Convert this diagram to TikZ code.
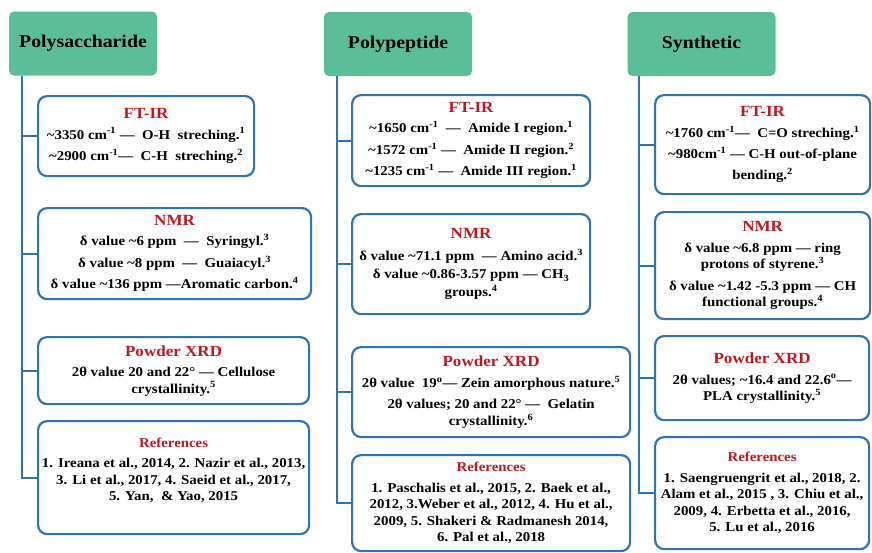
\documentclass[tikz,border=0pt]{standalone}
\usepackage{fontspec}
\setmainfont{Liberation Serif}[FakeStretch=1.1]
\usetikzlibrary{positioning}
\definecolor{headgreen}{RGB}{92,190,152}
\definecolor{boxblue}{RGB}{46,117,182}
\definecolor{titlered}{RGB}{192,24,32}
\newcommand{\btitle}[1]{{\color{titlered}\fontsize{15.5}{18}\selectfont #1}}
\newcommand{\rtitle}[1]{{\color{titlered}\fontsize{13.5}{16}\selectfont #1}}
\newcommand{\apx}{\textasciitilde}
\newcommand{\sps}[1]{\textsuperscript{#1}}

\begin{document}
\begin{tikzpicture}[x=1pt,y=-1pt,
	head/.style={fill=headgreen, rounded corners=5pt, minimum width=148pt, minimum height=64pt, font=\bfseries\fontsize{18}{22}\selectfont},
	card/.style={draw=boxblue, line width=2.2pt, rounded corners=9pt, fill=white, anchor=north west, align=center, inner sep=0pt, font=\bfseries\fontsize{13.5}{16.5}\selectfont},
	link/.style={draw=boxblue, line width=2.2pt}]
%	\draw [help lines] (0,0) grid (872,552);
	\useasboundingbox (0,0) rectangle (872,552);
	% headers
	\node [head] (h1) at (83,43.5) {Polysaccharide};
	\node [head] (h2) at (398,44) {Polypeptide};
	\node [head] (h3) at (701.5,44) {Synthetic};
	\coordinate (sp1) at (22,0);
	\coordinate (sp2) at (337,0);
	\coordinate (sp3) at (639,0);
	% polysaccharide
	\node [card, minimum width=216pt, minimum height=80pt] (ftir1) at (37,95) {\btitle{FT-IR}\\[4pt] \apx3350 cm\sps{-1} --- \ O-H \ streching.\sps{1}\\[5pt] \apx2900 cm\sps{-1}--- \ C-H \ streching.\sps{2}};
	\node [card, minimum width=273pt, minimum height=91pt] (nmr1) at (37,207) {\btitle{NMR}\\[4pt] δ value \apx6 ppm \ --- \ Syringyl.\sps{3}\\[5pt] δ value \apx8 ppm \ --- \ Guaiacyl.\sps{3}\\[5pt] δ value \apx136 ppm ---Aromatic carbon.\sps{4}};
	\node [card, minimum width=271pt, minimum height=67pt] (xrd1) at (37,336) {\btitle{Powder XRD}\\[4pt] 2θ value 20 and 22° --- Cellulose\\ crystallinity.\sps{5}};
	\node [card, minimum width=271pt, minimum height=113pt] (ref1) at (37,420) {\rtitle{References}\\[4pt] 1. Ireana et al., 2014, 2. Nazir et al., 2013,\\ 3. Li et al., 2017, 4. Saeid et al., 2017,\\ 5. Yan, \ \& Yao, 2015\\ \mbox{}};
	% polypeptide
	\node [card, minimum width=238pt, minimum height=91pt] (ftir2) at (351,94) {\btitle{FT-IR}\\[4pt] \apx1650 cm\sps{-1} \ --- \ Amide I region.\sps{1}\\[5pt] \apx1572 cm\sps{-1} --- \ Amide II region.\sps{2}\\[5pt] \apx1235 cm\sps{-1} --- \ Amide III region.\sps{1}};
	\node [card, minimum width=238pt, minimum height=100pt] (nmr2) at (351,213) {\btitle{NMR}\\[6pt] δ value \apx71.1 ppm \ --- Amino acid.\sps{3}\\[1.5pt] δ value \apx0.86-3.57 ppm --- CH\textsubscript{3}\\[1.5pt] groups.\sps{4}};
	\node [card, minimum width=278pt, minimum height=90pt] (xrd2) at (351,346) {\btitle{Powder XRD}\\[4pt] 2θ value \ 19\sps{o}--- Zein amorphous nature.\sps{5}\\[5pt] 2θ values; 20 and 22° --- \ Gelatin\\ crystallinity.\sps{6}};
	\node [card, minimum width=278pt, minimum height=96pt] (ref2) at (351,454) {\rtitle{References}\\[4pt] 1. Paschalis et al., 2015, 2. Baek et al.,\\ 2012, 3.Weber et al., 2012, 4. Hu et al.,\\ 2009, 5. Shakeri \& Radmanesh 2014,\\ 6. Pal et al., 2018};
	% synthetic
	\node [card, minimum width=215pt, minimum height=99pt] (ftir3) at (654,94) {\btitle{FT-IR}\\[4pt] \apx1760 cm\sps{-1}--- \ C=O streching.\sps{1}\\[5pt] \apx980cm\sps{-1} --- C-H out-of-plane\\[4pt] bending.\sps{2}};
	\node [card, minimum width=215pt, minimum height=107pt] (nmr3) at (654,211) {\btitle{NMR}\\[4pt] δ value \apx6.8 ppm --- ring\\ protons of styrene.\sps{3}\\[5pt] δ value \apx1.42 -5.3 ppm --- CH\\ functional groups.\sps{4}};
	\node [card, minimum width=214pt, minimum height=84pt] (xrd3) at (654,335) {\btitle{Powder XRD}\\[4pt] 2θ values; \apx16.4 and 22.6\sps{o}---\\ PLA crystallinity.\sps{5}};
	\node [card, minimum width=214pt, minimum height=112pt] (ref3) at (654,436) {\rtitle{References}\\[4pt] 1. Saengruengrit et al., 2018, 2.\\ Alam et al., 2015 , 3. Chiu et al.,\\ 2009, 4. Erbetta et al., 2016,\\ 5. Lu et al., 2016};
	% spines and branches
	\draw [link] (h1.south -| sp1) |- (ref1.west);
	\draw [link] (ftir1.west -| sp1) -- (ftir1.west);
	\draw [link] (nmr1.west -| sp1) -- (nmr1.west);
	\draw [link] (xrd1.west -| sp1) -- (xrd1.west);
	\draw [link] (h2.south -| sp2) |- (ref2.west);
	\draw [link] (ftir2.west -| sp2) -- (ftir2.west);
	\draw [link] (nmr2.west -| sp2) -- (nmr2.west);
	\draw [link] (xrd2.west -| sp2) -- (xrd2.west);
	\draw [link] (h3.south -| sp3) |- (ref3.west);
	\draw [link] (ftir3.west -| sp3) -- (ftir3.west);
	\draw [link] (nmr3.west -| sp3) -- (nmr3.west);
	\draw [link] (xrd3.west -| sp3) -- (xrd3.west);
\end{tikzpicture}
\end{document}
